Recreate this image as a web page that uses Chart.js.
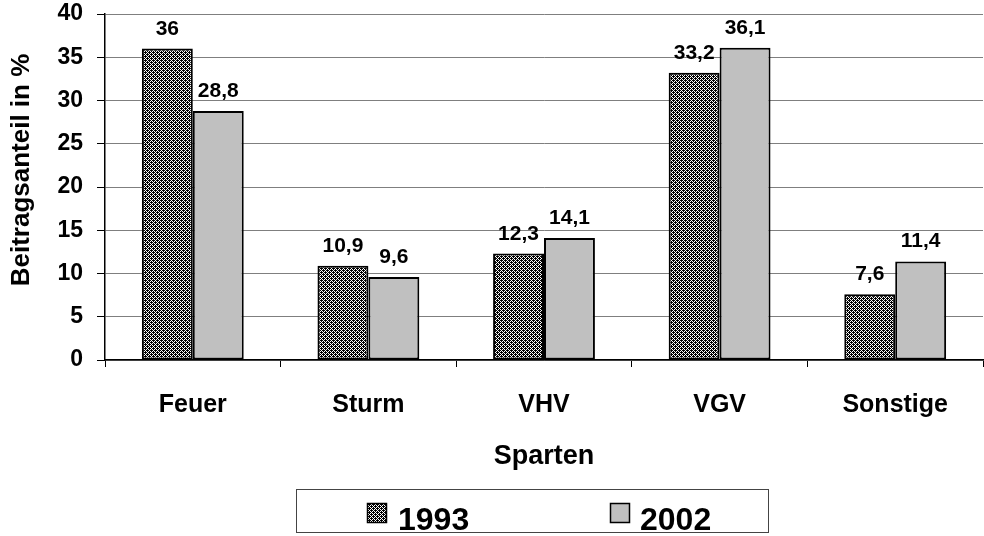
<!DOCTYPE html>
<html>
<head>
<meta charset="utf-8">
<script src="https://cdn.jsdelivr.net/npm/chart.js@4/dist/chart.umd.min.js"></script>
<style>
  html, body { margin: 0; padding: 0; background: #ffffff; }
  #wrap { width: 984px; height: 536px; position: relative; }
</style>
</head>
<body>
<div id="wrap"><canvas id="c" width="984" height="536"></canvas></div>
<script>
const categories = ['Feuer', 'Sturm', 'VHV', 'VGV', 'Sonstige'];
const seriesNames = ['1993', '2002'];
const values1993 = [36, 10.9, 12.3, 33.2, 7.6];
const values2002 = [28.8, 9.6, 14.1, 36.1, 11.4];
const yTicks = [0, 5, 10, 15, 20, 25, 30, 35, 40];
const xTitle = 'Sparten';
const yTitle = 'Beitragsanteil in %';

const FONT = '"Liberation Sans", Arial, Helvetica, sans-serif';

function makePattern() {
  const p = document.createElement('canvas');
  p.width = 4; p.height = 4;
  const g = p.getContext('2d');
  g.fillStyle = '#ffffff';
  g.fillRect(0, 0, 4, 4);
  g.fillStyle = '#000000';
  for (let y = 0; y < 4; y++) {
    for (let x = 0; x < 4; x++) {
      if ((x + y) % 2 === 0 || (x === 1 && y === 0) || (x === 3 && y === 2)) g.fillRect(x, y, 1, 1);
    }
  }
  return document.getElementById('c').getContext('2d').createPattern(p, 'repeat');
}
const pattern = makePattern();
const solidGray = '#c0c0c0';

const valueLabels = {
  id: 'valueLabels',
  afterDatasetsDraw(chart) {
    const ctx = chart.ctx;
    ctx.save();
    ctx.font = 'bold 21px ' + FONT;
    ctx.fillStyle = '#000';
    ctx.textAlign = 'center';
    ctx.textBaseline = 'alphabetic';
    chart.data.datasets.forEach((ds, i) => {
      const meta = chart.getDatasetMeta(i);
      meta.data.forEach((el, j) => {
        const v = ds.data[j];
        ctx.fillText(String(v).replace('.', ','), el.x, el.y - 14);
      });
    });
    ctx.restore();
  }
};

const extras = {
  id: 'extras',
  afterDraw(chart) {
    const ctx = chart.ctx;
    ctx.save();
    ctx.font = 'bold 26px ' + FONT;
    ctx.fillStyle = '#000';
    ctx.textAlign = 'center';
    ctx.textBaseline = 'middle';
    ctx.translate(22, 170);
    ctx.rotate(-Math.PI / 2);
    ctx.fillText(yTitle, 0, 0);
    ctx.restore();

    ctx.save();
    ctx.fillStyle = '#fff';
    ctx.fillRect(296, 489, 472, 43);
    ctx.strokeStyle = '#444';
    ctx.lineWidth = 1;
    ctx.strokeRect(296.5, 489.5, 472, 43);
    const items = [
      { x: 367, tx: 398 },
      { x: 610, tx: 640 }
    ];
    chart.data.datasets.forEach((ds, i) => {
      const it = items[i];
      ctx.fillStyle = ds.backgroundColor;
      ctx.fillRect(it.x, 503, 20, 20);
      ctx.strokeStyle = '#000';
      ctx.lineWidth = 1.5;
      ctx.strokeRect(it.x + 0.5, 503.5, 19, 19);
      ctx.fillStyle = '#000';
      ctx.font = 'bold 32px ' + FONT;
      ctx.textAlign = 'left';
      ctx.textBaseline = 'alphabetic';
      ctx.fillText(ds.label, it.tx, 530);
    });
    ctx.restore();
  }
};

new Chart(document.getElementById('c'), {
  type: 'bar',
  data: {
    labels: categories,
    datasets: [
      { label: seriesNames[0], data: values1993, backgroundColor: pattern, borderColor: '#000', borderWidth: 2, borderSkipped: false },
      { label: seriesNames[1], data: values2002, backgroundColor: solidGray, borderColor: '#000', borderWidth: 2, borderSkipped: false }
    ]
  },
  options: {
    responsive: false,
    animation: false,
    devicePixelRatio: 1,
    layout: { padding: { top: 14, right: 1, left: 0, bottom: 0 } },
    plugins: {
      legend: { display: false },
      tooltip: { enabled: false }
    },
    datasets: { bar: { categoryPercentage: 0.58, barPercentage: 1.0 } },
    scales: {
      x: {
        grid: { display: true, drawOnChartArea: false, drawTicks: true, tickLength: 7, tickColor: '#000', offset: true },
        border: { color: '#000', width: 1.5 },
        ticks: { color: '#000', font: { family: FONT, size: 25, weight: 'bold' }, padding: 23, maxRotation: 0 },
        title: { display: true, text: xTitle, color: '#000', font: { family: FONT, size: 27, weight: 'bold' }, padding: { top: 0, bottom: 63 } },
        afterFit(scale) { scale.height = 176; scale.paddingLeft = 0; scale.paddingRight = 0; }
      },
      y: {
        min: 0, max: 40,
        afterBuildTicks(scale) { scale.ticks = yTicks.map(v => ({ value: v })); },
        grid: { color: '#7f7f7f', lineWidth: 1, tickLength: 8, tickColor: '#000' },
        border: { color: '#000', width: 1.5 },
        ticks: { color: '#000', font: { family: FONT, size: 23, weight: 'bold' }, padding: 14 },
        afterFit(scale) { scale.width = 105; scale.paddingTop = 0; scale.paddingBottom = 0; }
      }
    }
  },
  plugins: [valueLabels, extras]
});
</script>
</body>
</html>
